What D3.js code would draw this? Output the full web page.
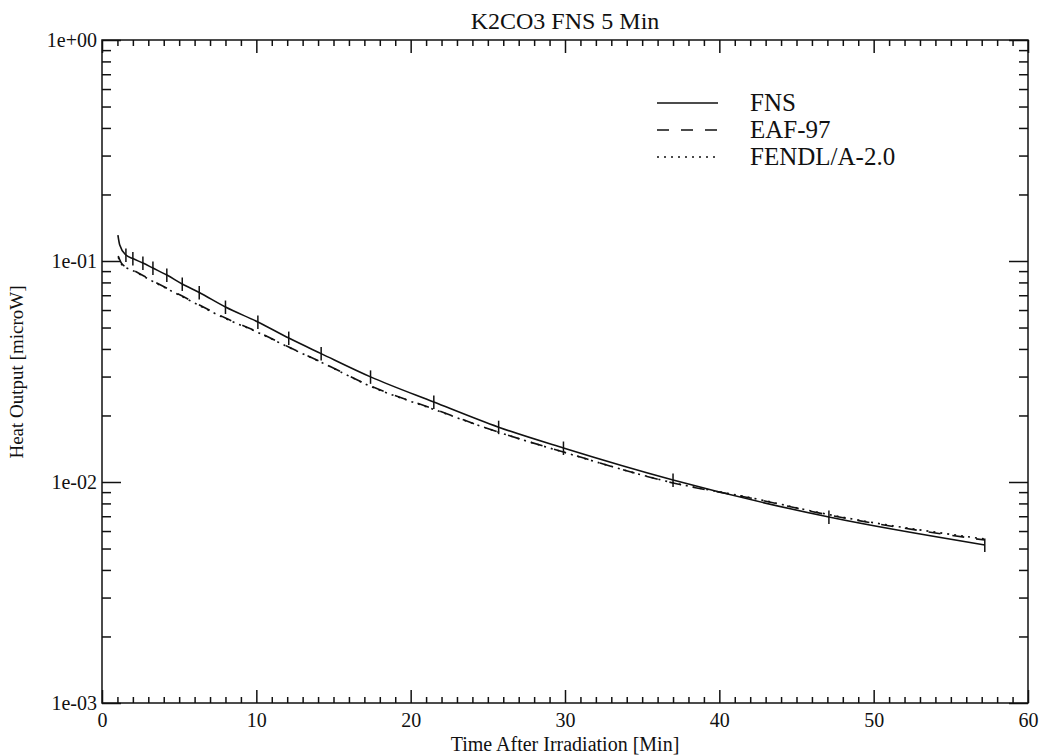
<!DOCTYPE html>
<html>
<head>
<meta charset="utf-8">
<script src="https://cdn.jsdelivr.net/npm/d3@7"></script>
<style>
  body { margin: 0; background: #fff; }
  text { font-family: "Liberation Serif", "Times New Roman", serif; fill: #111; }
</style>
</head>
<body>
<div id="chart"></div>
<script>
// FNS measurement: time [min] and heat output [microW], with relative error
var fnsTime = [1.03, 1.15, 1.55, 2.0, 2.65, 3.3, 4.2, 5.2, 6.3, 8.0, 10.1, 12.1, 14.2, 17.4, 21.5, 25.7, 29.9, 37.0, 47.1, 57.2];
var fnsHeat = [0.1311, 0.1181, 0.1064, 0.1026, 0.0979, 0.0929, 0.0864, 0.0787, 0.0720, 0.0619, 0.0530, 0.0448, 0.0381, 0.0299, 0.0230, 0.0177, 0.01425, 0.01021, 0.00694, 0.00519];
var fnsErr  = [0.00, 0.00, 0.07, 0.07, 0.07, 0.07, 0.07, 0.07, 0.07, 0.07, 0.07, 0.07, 0.07, 0.07, 0.07, 0.07, 0.07, 0.07, 0.07, 0.07];

// calculations
var calcTime  = [1.05, 1.3, 2.0, 3.3, 5.2, 8.0, 10.1, 12.1, 14.2, 17.4, 21.5, 25.7, 29.9, 37.0, 42.0, 47.1, 57.2];
var eafHeat   = [0.1053, 0.0969, 0.0911, 0.0812, 0.0694, 0.0552, 0.0477, 0.0408, 0.0349, 0.0272, 0.0214, 0.0168, 0.01367, 0.00990, 0.00847, 0.00709, 0.00546];
var fendlHeat = [0.1040, 0.0960, 0.0905, 0.0808, 0.0690, 0.0549, 0.0475, 0.0407, 0.0348, 0.0271, 0.0213, 0.0168, 0.01365, 0.00992, 0.00850, 0.00712, 0.00552];

var legendNames = ["FNS", "EAF-97", "FENDL/A-2.0"];
var legendDash = [null, "12,12", "2,5"];

var xMajor = [0, 10, 20, 30, 40, 50, 60];
var yMajor = [1e-3, 1e-2, 1e-1, 1];
var yLabels = ["1e-03", "1e-02", "1e-01", "1e+00"];

var svgWidth = 1048;
var svgHeight = 756;
var margin = { top: 40, right: 20, bottom: 53, left: 102 };
var width = 1028 - margin.left;
var height = 703 - margin.top;
var serif = '"Liberation Serif", "Times New Roman", serif';

var svg = d3.select("#chart")
    .append("svg")
    .attr("width", svgWidth)
    .attr("height", svgHeight);

var chartGroup = svg.append("g")
    .attr("transform", `translate(${margin.left}, ${margin.top})`);

var x = d3.scaleLinear().domain([0, 60]).range([0, width]);
var y = d3.scaleLog().domain([1e-3, 1]).range([height, 0]);

// minor tick values
var xMinor = d3.range(0, 61).filter(d => d % 10 !== 0);
var yMinor = [];
[1e-3, 1e-2, 1e-1].forEach(function (dec) {
    for (var k = 2; k <= 9; k++) yMinor.push(dec * k);
});

function tickStyle(g) {
    g.select(".domain").remove();
    g.attr("font-family", serif);
    g.selectAll("line").attr("stroke", "#111").attr("stroke-width", 1.5);
}

// bottom axis with labels
chartGroup.append("g")
    .attr("transform", `translate(0, ${height})`)
    .call(d3.axisBottom(x).tickValues(xMajor).tickSize(-13).tickPadding(10).tickFormat(d3.format("d")))
    .call(tickStyle)
    .selectAll("text").style("font-size", "20px").style("font-family", serif);
chartGroup.append("g")
    .attr("transform", `translate(0, ${height})`)
    .call(d3.axisBottom(x).tickValues(xMinor).tickSize(-6).tickFormat(""))
    .call(tickStyle);
// top mirror
chartGroup.append("g")
    .call(d3.axisTop(x).tickValues(xMajor).tickSize(-13).tickFormat(""))
    .call(tickStyle);
chartGroup.append("g")
    .call(d3.axisTop(x).tickValues(xMinor).tickSize(-6).tickFormat(""))
    .call(tickStyle);

// left axis with labels
chartGroup.append("g")
    .call(d3.axisLeft(y).tickValues(yMajor).tickSize(-19).tickPadding(5)
        .tickFormat((d, i) => yLabels[i]))
    .call(tickStyle)
    .selectAll("text").style("font-size", "20px").style("font-family", serif);
chartGroup.append("g")
    .call(d3.axisLeft(y).tickValues(yMinor).tickSize(-9).tickFormat(""))
    .call(tickStyle);
// right mirror
chartGroup.append("g")
    .attr("transform", `translate(${width}, 0)`)
    .call(d3.axisRight(y).tickValues(yMajor).tickSize(-19).tickFormat(""))
    .call(tickStyle);
chartGroup.append("g")
    .attr("transform", `translate(${width}, 0)`)
    .call(d3.axisRight(y).tickValues(yMinor).tickSize(-9).tickFormat(""))
    .call(tickStyle);

// frame
chartGroup.append("rect")
    .attr("width", width)
    .attr("height", height)
    .attr("fill", "none")
    .attr("stroke", "#111")
    .attr("stroke-width", 1.5);

// curves
var line = d3.line()
    .x(d => x(d[0]))
    .y(d => y(d[1]))
    .curve(d3.curveMonotoneX);

var fnsData = fnsTime.map((t, i) => [t, fnsHeat[i], fnsErr[i]]);
var eafData = calcTime.map((t, i) => [t, eafHeat[i]]);
var fendlData = calcTime.map((t, i) => [t, fendlHeat[i]]);

chartGroup.append("path")
    .datum(eafData)
    .attr("d", line)
    .attr("fill", "none")
    .attr("stroke", "#111")
    .attr("stroke-width", 1.6)
    .attr("stroke-dasharray", legendDash[1]);

chartGroup.append("path")
    .datum(fendlData)
    .attr("d", line)
    .attr("fill", "none")
    .attr("stroke", "#111")
    .attr("stroke-width", 1.6)
    .attr("stroke-dasharray", legendDash[2]);

chartGroup.append("path")
    .datum(fnsData)
    .attr("d", line)
    .attr("fill", "none")
    .attr("stroke", "#111")
    .attr("stroke-width", 1.6);

// error bars on FNS
chartGroup.append("g")
    .selectAll("line")
    .data(fnsData.filter(d => d[2] > 0))
    .enter()
    .append("line")
    .attr("x1", d => x(d[0]))
    .attr("x2", d => x(d[0]))
    .attr("y1", d => y(d[1] * (1 + d[2])))
    .attr("y2", d => y(d[1] * (1 - d[2])))
    .attr("stroke", "#111")
    .attr("stroke-width", 1.5);

// title and axis labels
svg.append("text")
    .attr("x", 565)
    .attr("y", 29)
    .attr("text-anchor", "middle")
    .style("font-size", "24px")
    .text("K2CO3 FNS 5 Min");

svg.append("text")
    .attr("x", 565)
    .attr("y", 751)
    .attr("text-anchor", "middle")
    .style("font-size", "20px")
    .text("Time After Irradiation [Min]");

svg.append("text")
    .attr("transform", "translate(23, 372) rotate(-90)")
    .attr("text-anchor", "middle")
    .style("font-size", "19px")
    .text("Heat Output [microW]");

// legend
var legend = svg.append("g");
legendNames.forEach(function (name, i) {
    var ly = 103 + i * 27;
    legend.append("line")
        .attr("x1", 657).attr("x2", 718)
        .attr("y1", ly).attr("y2", ly)
        .attr("stroke", "#111")
        .attr("stroke-width", 1.6)
        .attr("stroke-dasharray", legendDash[i]);
    legend.append("text")
        .attr("x", 750)
        .attr("y", ly + 8)
        .style("font-size", "25px")
        .text(name);
});
</script>
</body>
</html>
